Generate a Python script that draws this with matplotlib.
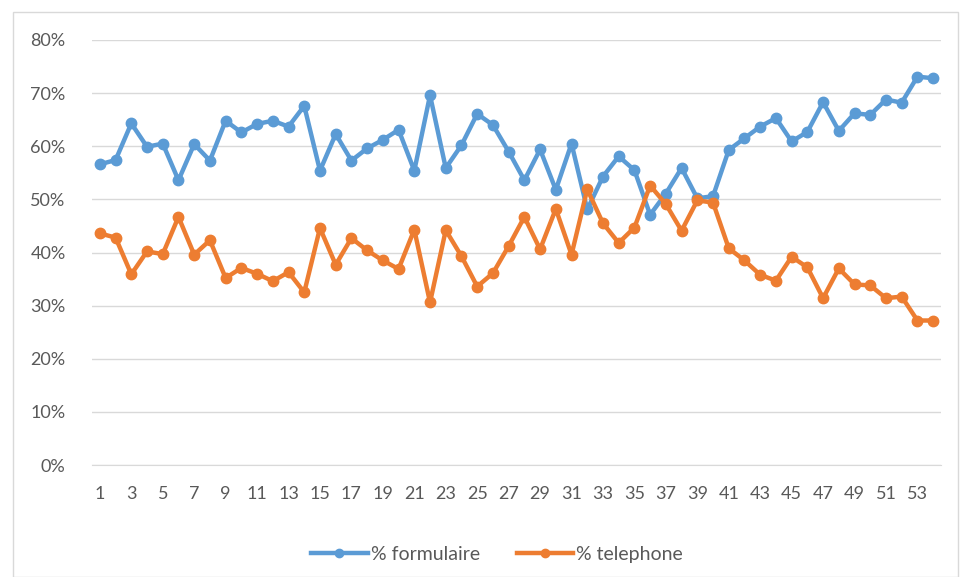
import matplotlib.pyplot as plt
from matplotlib.patches import Rectangle

# Data (percent)
points = list(range(1, 55))
formulaire = [56.6, 57.4, 64.3, 59.9, 60.5, 53.6, 60.4, 57.3, 64.8, 62.6,
              64.2, 64.8, 63.7, 67.6, 55.4, 62.3, 57.3, 59.6, 61.2, 63.1,
              55.4, 69.6, 55.9, 60.2, 66.1, 64.0, 59.0, 53.6, 59.4, 51.8,
              60.5, 48.1, 54.3, 58.1, 55.5, 47.1, 51.1, 55.9, 50.2, 50.6,
              59.3, 61.5, 63.7, 65.3, 60.9, 62.7, 68.3, 62.9, 66.2, 65.9,
              68.8, 68.2, 73.1, 72.8]
telephone = [43.6, 42.8, 35.9, 40.2, 39.7, 46.7, 39.6, 42.3, 35.2, 37.1,
             36.0, 34.6, 36.3, 32.5, 44.6, 37.7, 42.7, 40.4, 38.5, 36.9,
             44.3, 30.6, 44.2, 39.3, 33.6, 36.1, 41.2, 46.7, 40.6, 48.2,
             39.6, 51.9, 45.5, 41.8, 44.7, 52.6, 49.1, 44.1, 49.8, 49.4,
             40.8, 38.5, 35.8, 34.7, 39.2, 37.2, 31.4, 37.0, 34.0, 33.8,
             31.4, 31.7, 27.2, 27.2]
y_ticks = [0, 10, 20, 30, 40, 50, 60, 70, 80]

blue = '#5B9BD5'
orange = '#ED7D31'
text_col = '#595959'

plt.rcParams['font.family'] = ['Lato', 'DejaVu Sans']

fig = plt.figure(figsize=(9.6, 5.77), dpi=100)
# light frame around the chart
fig.patches.append(Rectangle((13 / 960, 0.0), 945 / 960, 1 - 12 / 577,
                             transform=fig.transFigure, fill=False,
                             edgecolor='#D9D9D9', linewidth=1))

ax = fig.add_axes([92 / 960, 1 - 465 / 577, 849 / 960, 425 / 577])

ax.plot(points, formulaire, color=blue, linewidth=3.2, marker='o',
        markersize=7.5, label='% formulaire', solid_joinstyle='round')
ax.plot(points, telephone, color=orange, linewidth=3.2, marker='o',
        markersize=7.5, label='% telephone', solid_joinstyle='round')

ax.set_xlim(0.5, 54.5)
ax.set_ylim(0, 80)
ax.set_yticks(y_ticks)
ax.set_yticklabels([f'{v}%' for v in y_ticks])
ax.set_xticks(points[::2])
ax.set_xticklabels([str(p) for p in points[::2]])
ax.grid(axis='y', color='#D9D9D9', linewidth=1)
ax.set_axisbelow(True)
for s in ['top', 'right', 'left']:
    ax.spines[s].set_visible(False)
ax.spines['bottom'].set_color('#D9D9D9')
ax.tick_params(axis='both', length=0, labelsize=13, labelcolor=text_col)
ax.tick_params(axis='y', pad=19)
ax.tick_params(axis='x', pad=15)

ax.legend(loc='upper center', bbox_to_anchor=(0.477, -0.15), ncol=2,
          frameon=False, fontsize=14, labelcolor=text_col,
          handlelength=2.9, handletextpad=0.15, columnspacing=1.9,
          markerscale=0.8)

fig.savefig('out.png', dpi=100)
